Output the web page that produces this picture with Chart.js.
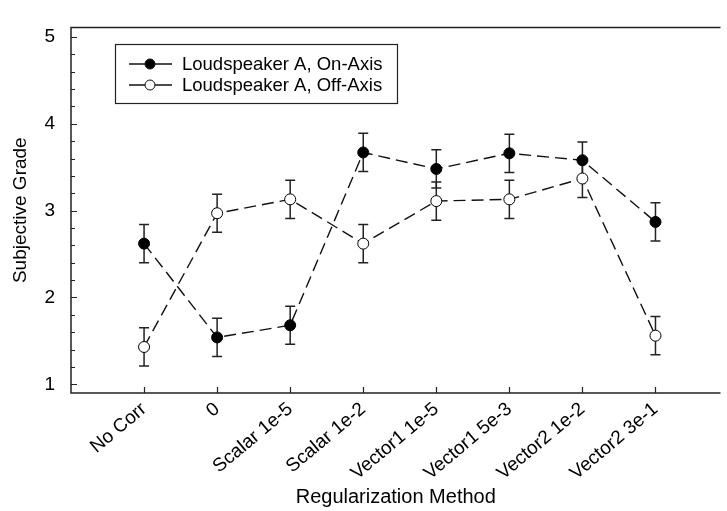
<!DOCTYPE html>
<html>
<head>
<meta charset="utf-8">
<script src="https://cdn.jsdelivr.net/npm/chart.js@4"></script>
<style>
  html, body { margin: 0; padding: 0; background: #fff; overflow: hidden; }
  #wrap { width: 727px; height: 511px; }
</style>
</head>
<body>
<div id="wrap"><canvas id="chart" width="727" height="511"></canvas></div>
<script>
// Regularization methods on the x axis
const categories = ['No Corr', '0', 'Scalar 1e-5', 'Scalar 1e-2', 'Vector1 1e-5', 'Vector1 5e-3', 'Vector2 1e-2', 'Vector2 3e-1'];

// Mean subjective grades and error-bar half widths
const onAxisMean = [2.62, 1.54, 1.68, 3.67, 3.48, 3.66, 3.58, 2.87];
const onAxisErr  = [0.22, 0.22, 0.22, 0.22, 0.22, 0.22, 0.21, 0.22];
const offAxisMean = [1.43, 2.97, 3.13, 2.62, 3.11, 3.13, 3.37, 1.56];
const offAxisErr  = [0.22, 0.22, 0.22, 0.22, 0.22, 0.22, 0.22, 0.22];

const seriesLabels = ['Loudspeaker A, On-Axis', 'Loudspeaker A, Off-Axis'];
const yTicks = [1, 2, 3, 4, 5];

const FONT = "'Liberation Sans', Arial, Helvetica, sans-serif";
const INK = '#111';

Chart.defaults.font.family = FONT;
Chart.defaults.color = '#000';

function toPoints(values) {
  return values.map((v, i) => ({ x: i, y: v }));
}

// Vertical error bars with caps, drawn under the markers
const errorBars = {
  id: 'errorBars',
  beforeDatasetsDraw(chart) {
    const { ctx, scales: { x, y } } = chart;
    ctx.save();
    ctx.strokeStyle = '#222';
    ctx.lineWidth = 1.5;
    chart.data.datasets.forEach(ds => {
      ds.data.forEach((p, i) => {
        const e = ds.errors[i];
        const px = x.getPixelForValue(p.x);
        const top = y.getPixelForValue(p.y + e);
        const bot = y.getPixelForValue(p.y - e);
        ctx.beginPath();
        ctx.moveTo(px, top); ctx.lineTo(px, bot);
        ctx.moveTo(px - 5, top); ctx.lineTo(px + 5, top);
        ctx.moveTo(px - 5, bot); ctx.lineTo(px + 5, bot);
        ctx.stroke();
      });
    });
    ctx.restore();
  }
};

// Axis frame with inward major and minor ticks
const frame = {
  id: 'frame',
  afterDraw(chart) {
    const { ctx, chartArea: a, scales: { x, y } } = chart;
    ctx.save();
    ctx.strokeStyle = '#222';
    ctx.lineWidth = 1.5;
    ctx.beginPath();
    ctx.moveTo(a.right, a.top); ctx.lineTo(a.left, a.top);
    ctx.lineTo(a.left, a.bottom); ctx.lineTo(a.right, a.bottom);
    ctx.stroke();
    ctx.lineWidth = 1.2;
    ctx.beginPath();
    for (let k = 10; k <= 50; k += 2) {
      const v = k / 10;
      const py = Math.round(y.getPixelForValue(v)) + 0.5;
      const len = (k % 10 === 0) ? 6 : 4;
      ctx.moveTo(a.left, py); ctx.lineTo(a.left + len, py);
    }
    categories.forEach((_, i) => {
      const px = Math.round(x.getPixelForValue(i)) + 0.5;
      ctx.moveTo(px, a.bottom); ctx.lineTo(px, a.bottom - 6);
    });
    ctx.stroke();
    ctx.restore();
  }
};

// Boxed legend in the upper left of the plot
const boxLegend = {
  id: 'boxLegend',
  afterDraw(chart) {
    const { ctx } = chart;
    const box = { x: 115, y: 44, w: 282, h: 59 };
    ctx.save();
    ctx.strokeStyle = '#222';
    ctx.lineWidth = 1.2;
    ctx.strokeRect(box.x + 0.5, box.y + 0.5, box.w, box.h);
    ctx.font = '18.5px ' + FONT;
    ctx.textBaseline = 'middle';
    ctx.fillStyle = '#000';
    chart.data.datasets.forEach((ds, i) => {
      const cy = box.y + 20 + i * 21;
      ctx.strokeStyle = INK;
      ctx.lineWidth = 1.3;
      ctx.beginPath();
      ctx.moveTo(129, cy); ctx.lineTo(172, cy);
      ctx.stroke();
      ctx.beginPath();
      ctx.arc(150, cy, 5, 0, Math.PI * 2);
      ctx.fillStyle = ds.pointBackgroundColor;
      ctx.fill();
      ctx.lineWidth = 1;
      ctx.stroke();
      ctx.fillStyle = '#000';
      ctx.fillText(ds.label, 182, cy + 1);
    });
    ctx.restore();
  }
};

new Chart(document.getElementById('chart'), {
  type: 'line',
  data: {
    datasets: [
      {
        label: seriesLabels[0],
        data: toPoints(onAxisMean),
        errors: onAxisErr,
        borderColor: INK,
        borderWidth: 1.4,
        borderDash: [12, 6],
        pointRadius: 5.5,
        pointBorderWidth: 1,
        pointBackgroundColor: '#000',
        pointBorderColor: '#000',
        tension: 0
      },
      {
        label: seriesLabels[1],
        data: toPoints(offAxisMean),
        errors: offAxisErr,
        borderColor: INK,
        borderWidth: 1.4,
        borderDash: [12, 6],
        pointRadius: 5.5,
        pointBorderWidth: 1,
        pointBackgroundColor: '#fff',
        pointBorderColor: '#000',
        tension: 0
      }
    ]
  },
  options: {
    responsive: false,
    animation: false,
    devicePixelRatio: 1,
    layout: { padding: { top: 10, right: 0, left: 0, bottom: 0 } },
    plugins: { legend: { display: false }, tooltip: { enabled: false } },
    scales: {
      x: {
        type: 'linear',
        min: -1,
        max: 7.89,
        grid: { display: false, drawTicks: false },
        border: { display: false },
        afterBuildTicks: s => { s.ticks = categories.map((_, i) => ({ value: i })); },
        afterFit: s => { s.height = 118; },
        ticks: {
          autoSkip: false,
          minRotation: 40,
          maxRotation: 40,
          padding: 5,
          font: { size: 19 },
          color: '#000',
          callback: v => categories[v]
        },
        title: {
          display: true,
          text: 'Regularization Method',
          font: { size: 20 },
          color: '#000',
          padding: { top: 0, bottom: 2 }
        }
      },
      y: {
        type: 'linear',
        min: 0.9,
        max: 5.11,
        grid: { display: false, drawTicks: false },
        border: { display: false },
        afterBuildTicks: s => { s.ticks = yTicks.map(v => ({ value: v })); },
        afterFit: s => { s.width = 71; },
        ticks: {
          padding: 16,
          font: { size: 19 },
          color: '#000'
        },
        title: {
          display: true,
          text: 'Subjective Grade',
          font: { size: 19 },
          color: '#000',
          padding: { top: 9, bottom: 0 }
        }
      }
    }
  },
  plugins: [errorBars, frame, boxLegend]
});
</script>
</body>
</html>
